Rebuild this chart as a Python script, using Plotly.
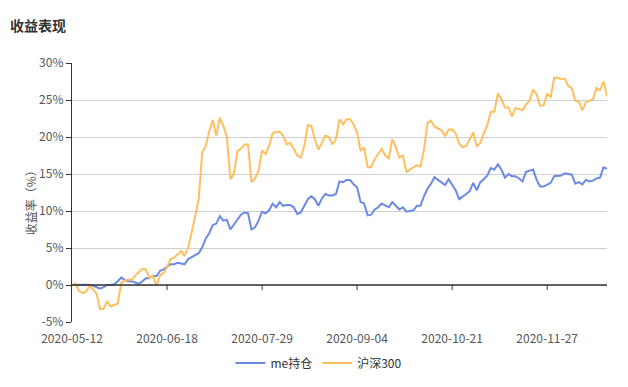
import pandas as pd
import plotly.graph_objects as go

# ---- data ----
holidays = ["2020-06-25", "2020-06-26", "2020-10-01", "2020-10-02",
            "2020-10-05", "2020-10-06", "2020-10-07", "2020-10-08"]
dates = [d.strftime("%Y-%m-%d") for d in pd.bdate_range("2020-05-12", "2020-12-22")
         if d.strftime("%Y-%m-%d") not in holidays]

me_hold = [
    0.0, 0.0, 0.0, 0.05, 0.1, 0.05, -0.1, -0.3, -0.5, -0.3,
    0.0, 0.0, 0.1, 0.5, 1.0, 0.7, 0.5, 0.5, 0.3, 0.15,
    0.5, 0.9, 0.9, 1.25, 1.2, 1.9, 2.1, 2.4, 2.8, 2.8,
    3.0, 2.9, 2.8, 3.5, 3.8, 4.0, 4.3, 5.1, 6.3, 7.0,
    8.1, 8.3, 9.3, 8.7, 8.8, 7.5, 8.2, 8.9, 9.5, 9.8,
    9.7, 7.5, 7.8, 8.7, 9.9, 9.7, 10.1, 11.0, 10.5, 11.2,
    10.7, 10.8, 10.8, 10.5, 9.6, 9.8, 10.8, 11.6, 12.0, 11.6,
    10.7, 11.7, 12.3, 12.1, 12.1, 12.3, 14.0, 13.9, 14.2, 14.2,
    13.6, 13.2, 11.2, 11.0, 9.4, 9.5, 10.2, 10.5, 11.0, 10.7,
    10.5, 11.2, 10.7, 10.2, 10.5, 9.9, 10.0, 10.1, 10.7, 10.7,
    12.0, 13.0, 13.7, 14.6, 14.2, 13.8, 13.5, 14.3, 13.6, 12.8,
    11.6, 11.9, 12.3, 12.7, 13.8, 12.8, 13.9, 14.3, 14.8, 15.8,
    15.6, 16.3, 15.6, 14.5, 15.0, 14.7, 14.7, 14.4, 14.0, 15.3,
    15.4, 15.6, 14.2, 13.3, 13.3, 13.5, 13.8, 14.7, 14.7, 14.8,
    15.1, 15.0, 14.9, 13.7, 13.9, 13.6, 14.2, 14.0, 14.1, 14.4,
    14.5, 15.9, 15.7,
]

hs300 = [
    0.0, 0.2, -0.8, -1.1, -0.9, -0.1, -0.6, -1.2, -3.3, -3.2,
    -2.2, -2.9, -2.7, -2.5, 0.3, 0.6, 0.7, 0.7, 1.3, 1.7,
    2.2, 2.1, 0.9, 1.2, -0.1, 1.3, 1.6, 2.4, 3.5, 3.7,
    4.2, 4.6, 3.9, 5.1, 7.1, 9.3, 11.6, 17.9, 18.8, 20.8,
    22.3, 20.2, 22.6, 21.5, 20.0, 14.3, 15.0, 18.1, 18.4, 19.0,
    19.0, 13.9, 14.4, 15.4, 18.2, 17.7, 18.8, 20.5, 20.7, 20.7,
    20.2, 19.0, 19.2, 18.4, 17.5, 17.2, 18.8, 21.6, 21.5, 19.7,
    18.3, 19.2, 20.2, 20.0, 19.0, 19.7, 22.4, 21.7, 22.4, 22.4,
    21.7, 20.6, 18.1, 18.6, 15.9, 15.9, 17.0, 17.7, 18.4, 17.5,
    17.1, 19.7, 18.6, 17.2, 17.5, 15.3, 15.6, 15.9, 16.2, 16.0,
    18.3, 21.9, 22.2, 21.4, 21.2, 20.9, 20.1, 21.0, 21.0, 20.5,
    19.1, 18.6, 18.8, 19.7, 20.6, 18.7, 19.2, 20.5, 21.6, 23.4,
    23.4, 25.9, 25.1, 24.0, 24.0, 22.8, 23.9, 23.8, 23.6, 24.4,
    24.9, 26.4, 25.8, 24.2, 24.3, 25.8, 25.4, 28.0, 28.0, 27.8,
    27.9, 26.9, 26.6, 24.9, 24.8, 23.6, 24.7, 24.9, 25.1, 26.6,
    26.3, 27.5, 25.5,
]

x_tick_labels = ["2020-05-12", "2020-06-18", "2020-07-29", "2020-09-04",
                 "2020-10-21", "2020-11-27"]
y_tick_values = [-5, 0, 5, 10, 15, 20, 25, 30]
y_tick_labels = ["-5%", "0%", "5%", "10%", "15%", "20%", "25%", "30%"]
series_names = ["me持仓", "沪深300"]

# ---- figure (page body has an 8px margin, so the figure is sized for it) ----
W, H = 612, 371
ML, MR, MT, MB = 64, 13, 55, 57
FONT = "Noto Sans CJK SC, Noto Sans, sans-serif"

fig = go.Figure()
fig.add_trace(go.Scatter(x=dates, y=me_hold, mode="lines", name=series_names[0],
                         line=dict(color="#6a8be4", width=2)))
fig.add_trace(go.Scatter(x=dates, y=hs300, mode="lines", name=series_names[1],
                         line=dict(color="#ffbf5e", width=2)))

# x-axis line along zero with ticks (ECharts onZero style)
for lab in x_tick_labels[1:]:
    fig.add_shape(type="line", xref="x", yref="y", x0=lab, x1=lab,
                  ysizemode="pixel", yanchor=0, y0=0, y1=-5,
                  line=dict(color="#333", width=1))
fig.add_shape(type="line", xref="paper", yref="y", x0=0, x1=1, y0=0, y1=0,
              line=dict(color="#333", width=1.3), layer="above")

fig.update_layout(
    width=W, height=H,
    margin=dict(l=ML, r=MR, t=MT, b=MB, autoexpand=False),
    paper_bgcolor="white", plot_bgcolor="white",
    font=dict(family=FONT, size=12, color="#666"),
    title=dict(text="<b>收益表现</b>", x=2 / W, xanchor="left",
               xref="container", yref="container", y=1 - 18 / H,
               yanchor="middle", font=dict(size=14, color="#333", family=FONT)),
    showlegend=True,
    legend=dict(orientation="h", xref="container", yref="container",
                x=0.508, xanchor="center", y=1 - 355 / H, yanchor="middle",
                font=dict(size=12, color="#333"),
                itemwidth=30, bgcolor="rgba(0,0,0,0)"),
    xaxis=dict(type="category", range=[0, len(dates) - 1],
               tickmode="array", tickvals=x_tick_labels, ticktext=x_tick_labels,
               showgrid=False, showline=False, ticks="", zeroline=False,
               tickfont=dict(size=12, color="#555"), ticklabelstandoff=8,
               automargin=False),
    yaxis=dict(range=[-5, 30], tickvals=y_tick_values, ticktext=y_tick_labels,
               showgrid=True, gridcolor="#d0d0d0", gridwidth=1,
               zeroline=False, showline=True, linecolor="#333", linewidth=1.3,
               ticks="outside", ticklen=5, tickcolor="#333",
               tickfont=dict(size=12, color="#555"), automargin=False),
    annotations=[dict(text="收益率（%）", textangle=-90, xref="paper", yref="paper",
                      x=(22 - ML) / (W - ML - MR), y=0.47, xanchor="center",
                      yanchor="middle", showarrow=False,
                      font=dict(size=12, color="#555"))],
)

fig.write_html("out.html")
